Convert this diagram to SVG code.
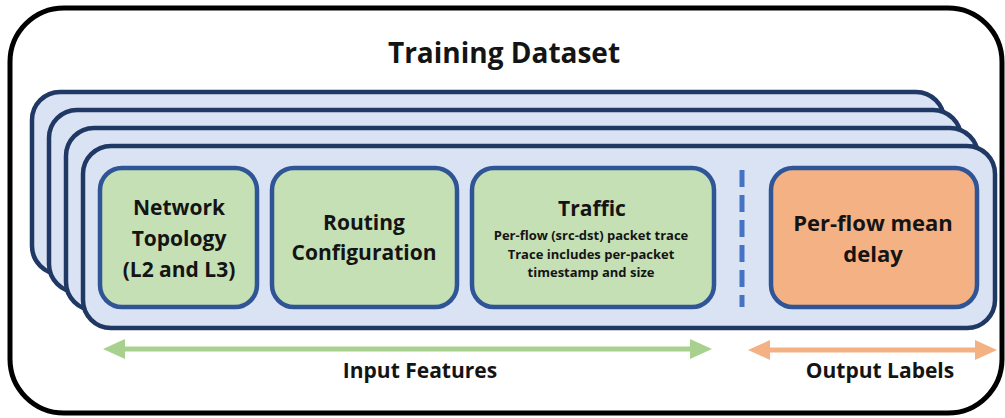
<svg xmlns="http://www.w3.org/2000/svg" width="1005" height="418" viewBox="0 0 1005 418">
  <style>
    text { font-family: "Open Sans", "Liberation Sans", sans-serif; font-weight: bold; fill: #141414; text-anchor: middle; }
    .frame { fill: #ffffff; stroke: #000000; stroke-width: 5; }
    .card { fill: #dae3f3; stroke: #203864; stroke-width: 4.5; }
    .box { stroke: #2f5597; stroke-width: 4.5; }
    .in { fill: #c5e0b4; }
    .out { fill: #f4b183; }
    .t21 { font-size: 21px; }
    .t22 { font-size: 22px; }
    .small { font-size: 13px; }
  </style>
  <defs>
    <marker id="headGreen" viewBox="0 0 22 20" markerWidth="22" markerHeight="20" refX="4" refY="10" orient="auto-start-reverse" markerUnits="userSpaceOnUse">
      <path d="M0,0 L22,10 L0,20 z" fill="#a9d18e"/>
    </marker>
    <marker id="headOrange" viewBox="0 0 22 20" markerWidth="22" markerHeight="20" refX="4" refY="10" orient="auto-start-reverse" markerUnits="userSpaceOnUse">
      <path d="M0,0 L22,10 L0,20 z" fill="#f4b183"/>
    </marker>
  </defs>

  <!-- outer frame -->
  <rect class="frame" x="10" y="8" width="992" height="405" rx="54"/>
  <text x="504" y="63" style="font-size:28px">Training Dataset</text>

  <!-- stack of sample cards, back to front -->
  <g id="sample-stack">
    <rect class="card" x="32" y="92" width="912" height="182" rx="28"/>
    <rect class="card" x="49" y="110" width="912" height="182" rx="28"/>
    <rect class="card" x="66" y="128" width="912" height="182" rx="28"/>
    <rect class="card" x="83" y="146" width="912" height="182" rx="28"/>
  </g>

  <g id="network-topology">
    <rect class="box in" x="100" y="168" width="157" height="139" rx="22"/>
    <text class="t21" x="179" y="215">Network</text>
    <text class="t21" x="179" y="246">Topology</text>
    <text class="t21" x="179" y="277">(L2 and L3)</text>
  </g>

  <g id="routing-configuration">
    <rect class="box in" x="272" y="168" width="185" height="139" rx="22"/>
    <text class="t21" x="364" y="230">Routing</text>
    <text class="t21" x="364" y="260">Configuration</text>
  </g>

  <g id="traffic">
    <rect class="box in" x="472" y="168" width="242" height="139" rx="22"/>
    <text class="t21" x="592" y="216">Traffic</text>
    <text class="small" x="591" y="240">Per-flow (src-dst) packet trace</text>
    <text class="small" x="591" y="259">Trace includes per-packet</text>
    <text class="small" x="591" y="277">timestamp and size</text>
  </g>

  <g id="per-flow-delay">
    <rect class="box out" x="771" y="168" width="206" height="139" rx="22"/>
    <text class="t22" x="873" y="231">Per-flow mean</text>
    <text class="t22" x="873" y="262">delay</text>
  </g>

  <g id="connectors">
    <line x1="742" y1="170" x2="742" y2="307" stroke="#4472c4" stroke-width="5" stroke-dasharray="17 8"/>
    <line x1="121" y1="349" x2="694" y2="349" stroke="#a9d18e" stroke-width="5" marker-start="url(#headGreen)" marker-end="url(#headGreen)"/>
    <line x1="766" y1="350" x2="979" y2="350" stroke="#f4b183" stroke-width="5" marker-start="url(#headOrange)" marker-end="url(#headOrange)"/>
  </g>

  <text class="t21" x="420" y="378">Input Features</text>
  <text class="t21" x="880" y="378">Output Labels</text>
</svg>
